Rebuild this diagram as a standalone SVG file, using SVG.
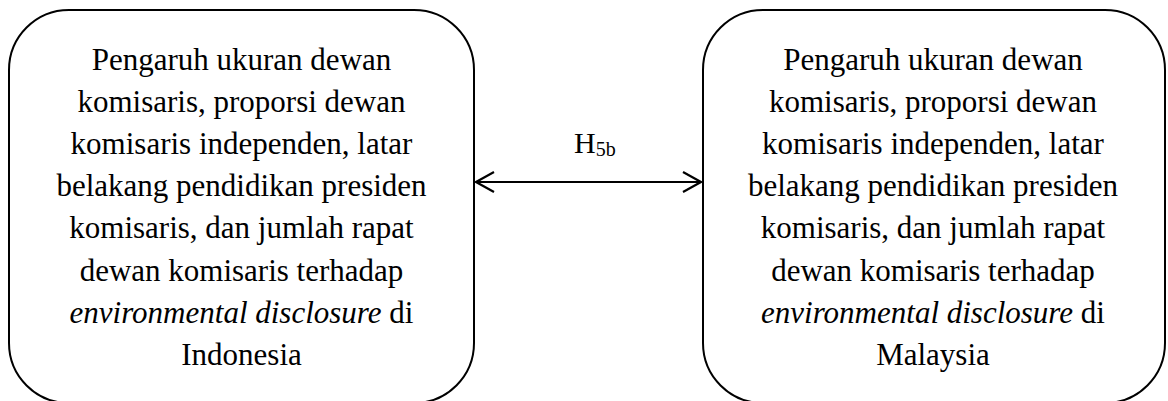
<svg xmlns="http://www.w3.org/2000/svg" width="1168" height="401" viewBox="0 0 1168 401">
  <style>
    .box { fill: #ffffff; stroke: #000000; stroke-width: 2; }
    .label { font-family: "Liberation Serif", "Times New Roman", serif; font-size: 31px; fill: #000000; text-anchor: middle; }
    .it { font-style: italic; }
    .link { stroke: #000000; stroke-width: 2.2; fill: none; }
    .hyp { font-family: "Liberation Serif", "Times New Roman", serif; font-size: 30px; fill: #000000; }
  </style>
  <defs>
    <marker id="chev" viewBox="0 0 20 22" refX="19" refY="11" markerWidth="20" markerHeight="22" markerUnits="userSpaceOnUse" orient="auto-start-reverse">
      <path d="M1,1 L19,11 L1,21" fill="none" stroke="#000000" stroke-width="2.2"/>
    </marker>
  </defs>
  <rect width="1168" height="401" fill="#ffffff"/>

  <g id="node-indonesia">
    <rect class="box" x="9" y="10" width="465" height="393" rx="60" ry="60"/>
    <text class="label" x="241.5" y="70">Pengaruh ukuran dewan</text>
    <text class="label" x="241.5" y="112">komisaris, proporsi dewan</text>
    <text class="label" x="241.5" y="154">komisaris independen, latar</text>
    <text class="label" x="241.5" y="196">belakang pendidikan presiden</text>
    <text class="label" x="241.5" y="238">komisaris, dan jumlah rapat</text>
    <text class="label" x="241.5" y="281">dewan komisaris terhadap</text>
    <text class="label" x="241.5" y="323"><tspan class="it">environmental disclosure</tspan> di</text>
    <text class="label" x="241.5" y="365">Indonesia</text>
  </g>

  <g id="node-malaysia">
    <rect class="box" x="703" y="10" width="462" height="393" rx="60" ry="60"/>
    <text class="label" x="933" y="70">Pengaruh ukuran dewan</text>
    <text class="label" x="933" y="112">komisaris, proporsi dewan</text>
    <text class="label" x="933" y="154">komisaris independen, latar</text>
    <text class="label" x="933" y="196">belakang pendidikan presiden</text>
    <text class="label" x="933" y="238">komisaris, dan jumlah rapat</text>
    <text class="label" x="933" y="281">dewan komisaris terhadap</text>
    <text class="label" x="933" y="323"><tspan class="it">environmental disclosure</tspan> di</text>
    <text class="label" x="933" y="365">Malaysia</text>
  </g>

  <g id="connectors">
    <line class="link" x1="476" y1="182" x2="701" y2="182" marker-start="url(#chev)" marker-end="url(#chev)"/>
    <text class="hyp" x="574" y="153">H<tspan font-size="20" dy="3">5b</tspan></text>
  </g>
</svg>
